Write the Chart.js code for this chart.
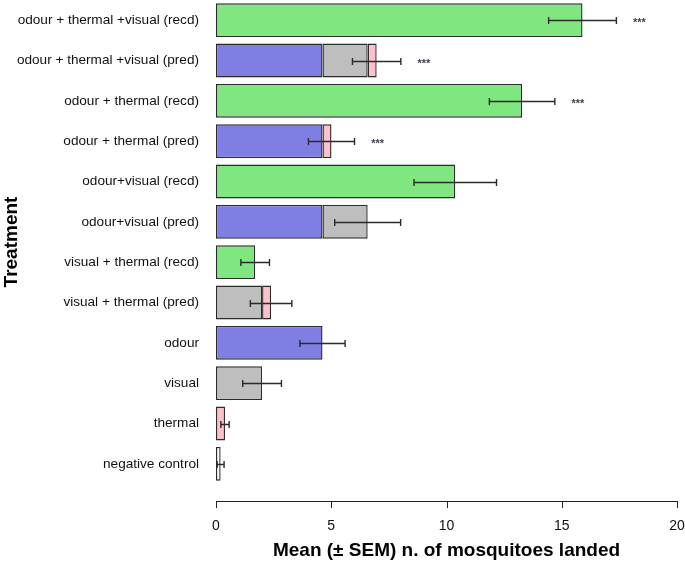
<!DOCTYPE html>
<html>
<head>
<meta charset="utf-8">
<script src="https://cdn.jsdelivr.net/npm/chart.js@4"></script>
<style>
  html,body{margin:0;padding:0;background:#fff;}
  #wrap{width:685px;height:562px;position:relative;}
</style>
</head>
<body>
<div id="wrap"><canvas id="chart" width="685" height="562"></canvas></div>
<script>
const categories = [
  'odour + thermal +visual (recd)',
  'odour + thermal +visual (pred)',
  'odour + thermal (recd)',
  'odour + thermal (pred)',
  'odour+visual (recd)',
  'odour+visual (pred)',
  'visual + thermal (recd)',
  'visual + thermal (pred)',
  'odour',
  'visual',
  'thermal',
  'negative control'
];
// stacked parts, null = no segment
const odourPart   = [null, 4.62, null, 4.62, null, 4.62, null, null, 4.62, null, null, null];
const visualPart  = [null, 1.96, null, null, null, 1.96, null, 2.0,  null, 2.0,  null, null];
const thermalPart = [null, 0.39, null, 0.39, null, null, null, 0.39, null, null, 0.39, null];
const recorded    = [15.9, null, 13.28, null, 10.38, null, 1.7, null, null, null, null, null];
const controlPart = [null, null, null, null, null, null, null, null, null, null, null, 0.2];
const sem = [1.47, 1.05, 1.42, 1.0, 1.79, 1.43, 0.62, 0.9, 0.98, 0.84, 0.18, 0.15];
const signif = ['***', '***', '***', '***', '', '', '', '', '', '', '', ''];
const xTicks = [0, 5, 10, 15, 20];

const FONT = '"Liberation Sans", Arial, sans-serif';
const NARROW = '"Liberation Sans Narrow", "Liberation Sans", Arial, sans-serif';

function ds(label, data, color){
  return { label, data, backgroundColor: color, borderColor: '#2b2b2b', borderWidth: 1.4,
           borderSkipped: false, barPercentage: 0.84, categoryPercentage: 1.0 };
}

// error bars, stars and the detached x axis line
const extras = {
  id: 'extras',
  afterDatasetsDraw(chart){
    const ctx = chart.ctx, xs = chart.scales.x, ys = chart.scales.y;
    ctx.save();
    ctx.strokeStyle = '#2a2a2a';
    ctx.lineWidth = 1.4;
    categories.forEach((c, i) => {
      let total = 0;
      chart.data.datasets.forEach(d => { total += d.data[i] || 0; });
      const y = Math.round(ys.getPixelForValue(i)) + 0.5;
      const x1 = xs.getPixelForValue(total - sem[i]);
      const x2 = xs.getPixelForValue(total + sem[i]);
      ctx.beginPath();
      ctx.moveTo(x1, y); ctx.lineTo(x2, y);
      ctx.moveTo(x1, y - 3.5); ctx.lineTo(x1, y + 3.5);
      ctx.moveTo(x2, y - 3.5); ctx.lineTo(x2, y + 3.5);
      ctx.stroke();
      if(signif[i]){
        ctx.fillStyle = '#3c4252';
        ctx.font = 'bold 11px ' + FONT;
        ctx.textAlign = 'center';
        ctx.textBaseline = 'middle';
        ctx.fillText(signif[i], xs.getPixelForValue(total + sem[i] + 1), y + 2);
      }
    });
    // x axis line, R style (detached)
    const ay = Math.round(chart.chartArea.bottom + 17);
    ctx.strokeStyle = '#222';
    ctx.lineWidth = 1;
    ctx.beginPath();
    ctx.moveTo(xs.getPixelForValue(xTicks[0]), ay + 0.5);
    ctx.lineTo(xs.getPixelForValue(xTicks[xTicks.length - 1]), ay + 0.5);
    xTicks.forEach(t => {
      const px = Math.round(xs.getPixelForValue(t)) + 0.5;
      ctx.moveTo(px, ay); ctx.lineTo(px, ay + 7);
    });
    ctx.stroke();
    ctx.restore();
  }
};

new Chart(document.getElementById('chart'), {
  type: 'bar',
  data: {
    labels: categories,
    datasets: [
      ds('odour', odourPart, '#7f7fe3'),
      ds('visual', visualPart, '#bebebe'),
      ds('thermal', thermalPart, '#ffc0cb'),
      ds('recorded', recorded, '#80e680'),
      ds('control', controlPart, '#ffffff')
    ]
  },
  options: {
    indexAxis: 'y',
    responsive: false,
    animation: false,
    layout: { padding: { top: -2, right: 8, left: 0, bottom: 0 } },
    plugins: { legend: { display: false }, tooltip: { enabled: false } },
    scales: {
      x: {
        stacked: true, min: 0, max: 20,
        afterBuildTicks(scale){ scale.ticks = xTicks.map(v => ({ value: v })); },
        afterFit(scale){ scale.height = 78; scale.paddingLeft = 0; scale.paddingRight = 0; },
        grid: { display: false, drawTicks: false },
        border: { display: false },
        ticks: { padding: 34, color: '#111', font: { family: NARROW, size: 14 } },
        title: { display: true, text: 'Mean (± SEM) n. of mosquitoes landed', color: '#000',
                 font: { family: FONT, size: 19, weight: 'bold' }, padding: { top: 0, bottom: 0 } }
      },
      y: {
        stacked: true,
        afterFit(scale){ scale.width = 216; scale.paddingTop = 0; scale.paddingBottom = 0; },
        grid: { display: false, drawTicks: false },
        border: { display: false },
        ticks: { padding: 17, color: '#111', font: { family: FONT, size: 13.6 } },
        title: { display: true, text: 'Treatment', color: '#000',
                 font: { family: FONT, size: 19, weight: 'bold' }, padding: { top: 0, bottom: 0 } }
      }
    }
  },
  plugins: [extras]
});
</script>
</body>
</html>
